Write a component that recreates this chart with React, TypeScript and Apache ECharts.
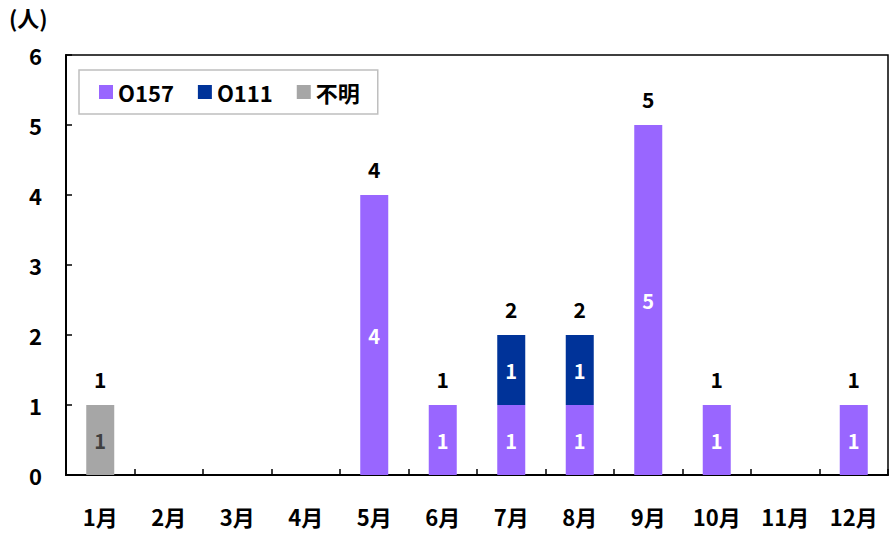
import React, { useEffect, useRef } from "react";
import * as echarts from "echarts";

const categories = ["1月", "2月", "3月", "4月", "5月", "6月", "7月", "8月", "9月", "10月", "11月", "12月"];
const o157 = [0, 0, 0, 0, 4, 1, 1, 1, 5, 1, 0, 1];
const o111 = [0, 0, 0, 0, 0, 0, 1, 1, 0, 0, 0, 0];
const unknown = [1, 0, 0, 0, 0, 0, 0, 0, 0, 0, 0, 0];
const totals = [1, 0, 0, 0, 4, 1, 2, 2, 5, 1, 0, 1];
const yTicks = [0, 1, 2, 3, 4, 5, 6];

const FONT = "'Noto Sans CJK JP', 'Liberation Sans', sans-serif";

export default function App() {
  const ref = useRef<HTMLDivElement>(null);
  useEffect(() => {
    if (!ref.current) return;
    const chart = echarts.init(ref.current, null, { renderer: "svg" });
    const inner = (color: string) => ({
      show: true,
      position: "inside",
      color,
      fontFamily: FONT,
      fontWeight: "bold",
      fontSize: 20,
      formatter: (p: any) => (p.value ? String(p.value) : ""),
    });
    chart.setOption({
      animation: false,
      backgroundColor: "#ffffff",
      textStyle: { fontFamily: FONT },
      grid: {
        left: 66,
        right: 2,
        top: 55,
        bottom: 58,
        show: true,
        borderColor: "#000",
        borderWidth: 1.5,
        containLabel: false,
      },
      graphic: [
        {
          type: "text",
          left: 9,
          top: 6,
          style: { text: "(人)", fontFamily: FONT, fontWeight: "bold", fontSize: 22, fill: "#000" },
        },
      ],
      legend: {
        left: 79,
        top: 70,
        data: ["O157", "O111", "不明"],
        icon: "rect",
        itemWidth: 14,
        itemHeight: 14,
        itemGap: 24,
        padding: [11, 18, 11, 20],
        borderColor: "#bfbfbf",
        borderWidth: 1.5,
        backgroundColor: "#fff",
        textStyle: { fontFamily: FONT, fontWeight: "bold", fontSize: 22, color: "#000" },
      },
      xAxis: {
        type: "category",
        data: categories,
        boundaryGap: true,
        axisLine: { lineStyle: { color: "#000", width: 2 } },
        axisTick: { show: true, inside: true, length: 6, lineStyle: { color: "#000", width: 1.5 } },
        axisLabel: {
          margin: 30,
          color: "#000",
          fontFamily: FONT,
          fontWeight: "bold",
          fontSize: 22,
        },
      },
      yAxis: {
        type: "value",
        min: 0,
        max: 6,
        interval: 1,
        splitLine: { show: false },
        axisLine: { show: true, lineStyle: { color: "#000", width: 2 } },
        axisTick: { show: true, inside: true, length: 6, lineStyle: { color: "#000", width: 1.5 } },
        axisLabel: {
          margin: 24,
          color: "#000",
          fontFamily: FONT,
          fontWeight: "bold",
          fontSize: 22,
          formatter: (v: number) => (yTicks.includes(v) ? String(v) : ""),
        },
      },
      series: [
        {
          name: "不明",
          type: "bar",
          stack: "total",
          barWidth: 28,
          data: unknown,
          itemStyle: { color: "#a6a6a6" },
          label: inner("#404040"),
        },
        {
          name: "O157",
          type: "bar",
          stack: "total",
          barWidth: 28,
          data: o157,
          itemStyle: { color: "#9966ff" },
          label: inner("#ffffff"),
        },
        {
          name: "O111",
          type: "bar",
          stack: "total",
          barWidth: 28,
          data: o111,
          itemStyle: { color: "#003399" },
          label: inner("#ffffff"),
        },
        {
          name: "合計",
          type: "bar",
          stack: "total",
          barWidth: 28,
          data: totals.map(() => 0),
          itemStyle: { color: "transparent" },
          label: {
            show: true,
            position: "top",
            distance: 16,
            color: "#000",
            fontFamily: FONT,
            fontWeight: "bold",
            fontSize: 21,
            formatter: (p: any) => (totals[p.dataIndex] ? String(totals[p.dataIndex]) : ""),
          },
        },
      ],
    });
    return () => chart.dispose();
  }, []);
  return (
    <div
      ref={ref}
      style={{ position: "absolute", left: 0, top: 0, width: 890, height: 533 }}
    />
  );
}
